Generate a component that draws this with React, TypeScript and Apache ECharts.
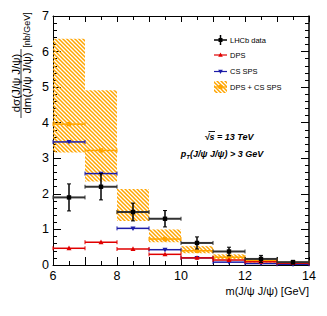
import React, { useEffect, useRef } from "react";
import * as echarts from "echarts";

// ---- data ----
const binLow = [6, 7, 8, 9, 10, 11, 12, 13];
const binHigh = [7, 8, 9, 10, 11, 12, 13, 14];
const lhcbData = [1.9, 2.2, 1.49, 1.3, 0.62, 0.38, 0.17, 0.08];
const lhcbErr = [0.38, 0.37, 0.25, 0.23, 0.17, 0.12, 0.1, 0.05];
const dpsPred = [0.47, 0.64, 0.45, 0.3, 0.2, 0.14, 0.09, 0.05];
const csSpsPred = [3.46, 2.57, 1.03, 0.43, 0.2, 0.08, 0.04, 0.02];
const sumPred = [3.96, 3.22, 1.48, 0.73, 0.4, 0.22, 0.13, 0.07];
const sumLow = [3.16, 2.35, 1.24, 0.64, 0.33, 0.16, 0.07, 0.04];
const sumHigh = [6.36, 4.91, 2.14, 1.0, 0.53, 0.3, 0.16, 0.09];
const xLabelValues = [6, 8, 10, 12, 14];
const legendLabels = ["LHCb data", "DPS", "CS SPS", "DPS + CS SPS"];

const FONT = "'Liberation Sans', Arial, Helvetica, sans-serif";
const ORANGE = "#ffa500";
const RED = "#e00000";
const BLUE = "#1c1ca8";
const BLACK = "#000";

function makeHatch(): any {
  const c = document.createElement("canvas");
  c.width = 4;
  c.height = 4;
  const g = c.getContext("2d")!;
  g.strokeStyle = ORANGE;
  g.lineWidth = 1.5;
  g.beginPath();
  g.moveTo(-1, -1);
  g.lineTo(5, 5);
  g.moveTo(-1, 3);
  g.lineTo(1, 5);
  g.moveTo(3, -1);
  g.lineTo(5, 1);
  g.stroke();
  return { image: c, repeat: "repeat", imageWidth: 4, imageHeight: 4 };
}

function measure(text: string, font: string): number {
  const c = document.createElement("canvas");
  const g = c.getContext("2d")!;
  g.font = font;
  return g.measureText(text).width;
}

function markerShape(kind: string, cx: number, cy: number, color: string, s = 2.2): any {
  if (kind === "square") {
    return { type: "rect", shape: { x: cx - s, y: cy - s, width: 2 * s, height: 2 * s }, style: { fill: color } };
  }
  if (kind === "up") {
    return {
      type: "polygon",
      shape: { points: [[cx, cy - s - 0.5], [cx - s - 0.3, cy + s - 0.3], [cx + s + 0.3, cy + s - 0.3]] },
      style: { fill: color },
    };
  }
  return {
    type: "polygon",
    shape: { points: [[cx, cy + s + 0.5], [cx - s - 0.3, cy - s + 0.3], [cx + s + 0.3, cy - s + 0.3]] },
    style: { fill: color },
  };
}

function stepRender(color: string, marker: string, lw: number, withErr: boolean, hColor?: string) {
  return (params: any, api: any) => {
    const lo = api.value(0);
    const hi = api.value(1);
    const v = api.value(2);
    const p0 = api.coord([lo, v]);
    const p1 = api.coord([hi, v]);
    const pc = api.coord([(lo + hi) / 2, v]);
    const hc = hColor || color;
    const children: any[] = [
      { type: "line", shape: { x1: p0[0], y1: p0[1], x2: p1[0], y2: p1[1] }, style: { stroke: hc, lineWidth: lw } },
      { type: "line", shape: { x1: p0[0], y1: p0[1] - 2, x2: p0[0], y2: p0[1] + 2 }, style: { stroke: hc, lineWidth: 1 } },
      { type: "line", shape: { x1: p1[0], y1: p1[1] - 2, x2: p1[0], y2: p1[1] + 2 }, style: { stroke: hc, lineWidth: 1 } },
    ];
    if (withErr) {
      const e = api.value(3);
      const pt = api.coord([(lo + hi) / 2, v + e]);
      const pb = api.coord([(lo + hi) / 2, v - e]);
      children.push(
        { type: "line", shape: { x1: pt[0], y1: pt[1], x2: pb[0], y2: pb[1] }, style: { stroke: BLACK, lineWidth: 1.5 } },
        { type: "line", shape: { x1: pt[0] - 2, y1: pt[1], x2: pt[0] + 2, y2: pt[1] }, style: { stroke: BLACK, lineWidth: 1 } },
        { type: "line", shape: { x1: pb[0] - 2, y1: pb[1], x2: pb[0] + 2, y2: pb[1] }, style: { stroke: BLACK, lineWidth: 1 } }
      );
    }
    children.push(markerShape(marker, pc[0], pc[1], color));
    return { type: "group", children };
  };
}

export default function App() {
  const ref = useRef<HTMLDivElement>(null);
  useEffect(() => {
    if (!ref.current) return;
    const chart = echarts.init(ref.current, null, { renderer: "svg" });
    const hatch = makeHatch();

    const bandRender = (params: any, api: any) => {
      const lo = api.value(0);
      const hi = api.value(1);
      const a = api.coord([lo, api.value(3)]);
      const b = api.coord([hi, api.value(2)]);
      return {
        type: "rect",
        shape: { x: a[0], y: a[1], width: b[0] - a[0], height: b[1] - a[1] },
        style: { fill: hatch, stroke: "none" },
      };
    };

    const xAxisBase = {
      type: "value",
      min: 6,
      max: 14,
      interval: 1,
      axisLine: { show: true, onZero: false, lineStyle: { color: BLACK, width: 1 } },
      splitLine: { show: false },
    };
    const yAxisBase = {
      type: "value",
      min: 0,
      max: 7,
      interval: 1,
      axisLine: { show: true, onZero: false, lineStyle: { color: BLACK, width: 1 } },
      splitLine: { show: false },
    };

    const legendX0 = 214;
    const legendX1 = 227;
    const legendTextX = 230;
    const rowY = [40, 55, 71.5, 87];
    const lc = (legendX0 + legendX1) / 2;
    const legendText = (i: number) => ({
      type: "text",
      x: legendTextX,
      y: rowY[i],
      style: { text: legendLabels[i], fontSize: 7.5, fontFamily: FONT, fill: BLACK, align: "left", verticalAlign: "middle" },
    });

    // sqrt(s) label with overline over "s"
    const sqrtFont = "italic bold 9px 'Liberation Sans', Arial, sans-serif";
    const sqrtText = "√s = 13 TeV";
    const sqrtW = measure(sqrtText, sqrtFont);
    const rootW = measure("√", sqrtFont);
    const sW = measure("s", sqrtFont);
    const sqrtCx = 229;
    const sqrtY = 137;
    const sqrtLeft = sqrtCx - sqrtW / 2;

    const yTitleStyle = { fontSize: 11.5, fontFamily: FONT, fill: BLACK, align: "center", verticalAlign: "middle" };

    const option: any = {
      animation: false,
      grid: { left: 53, right: 18, top: 16, bottom: 51, show: false },
      xAxis: [
        {
          ...xAxisBase,
          position: "bottom",
          axisTick: { show: true, inside: true, length: 8, lineStyle: { color: BLACK } },
          minorTick: { show: true, splitNumber: 2, length: 4, lineStyle: { color: BLACK } },
          axisLabel: {
            formatter: (v: number) => (xLabelValues.indexOf(v) >= 0 ? String(v) : ""),
            fontSize: 12.5,
            color: BLACK,
            margin: 4,
            fontFamily: FONT,
          },
        },
        {
          ...xAxisBase,
          position: "top",
          axisTick: { show: true, inside: true, length: 6, lineStyle: { color: BLACK } },
          minorTick: { show: true, splitNumber: 2, length: 4, lineStyle: { color: BLACK } },
          axisLabel: { show: false },
        },
      ],
      yAxis: [
        {
          ...yAxisBase,
          position: "left",
          axisTick: { show: true, inside: true, length: 8, lineStyle: { color: BLACK } },
          minorTick: { show: true, splitNumber: 5, length: 4, lineStyle: { color: BLACK } },
          axisLabel: { fontSize: 12.5, color: BLACK, margin: 4, fontFamily: FONT },
        },
        {
          ...yAxisBase,
          position: "right",
          axisLine: { show: true, onZero: false, lineStyle: { color: BLACK, width: 1.5 } },
          axisTick: { show: true, inside: true, length: 8, lineStyle: { color: BLACK } },
          minorTick: { show: true, splitNumber: 5, length: 4, lineStyle: { color: BLACK } },
          axisLabel: { show: false },
        },
      ],
      series: [
        {
          name: "band",
          type: "custom",
          renderItem: bandRender,
          encode: { x: [0, 1], y: [2, 3] },
          data: binLow.map((lo, i) => [lo, binHigh[i], sumLow[i], sumHigh[i]]),
          z: 1,
        },
        {
          name: "DPS + CS SPS",
          type: "custom",
          renderItem: stepRender(ORANGE, "square", 1.5, false),
          encode: { x: [0, 1], y: [2] },
          data: binLow.map((lo, i) => [lo, binHigh[i], sumPred[i]]),
          z: 2,
        },
        {
          name: "CS SPS",
          type: "custom",
          renderItem: stepRender(BLUE, "down", 1.5, false),
          encode: { x: [0, 1], y: [2] },
          data: binLow.map((lo, i) => [lo, binHigh[i], csSpsPred[i]]),
          z: 3,
        },
        {
          name: "DPS",
          type: "custom",
          renderItem: stepRender(RED, "up", 1.5, false),
          encode: { x: [0, 1], y: [2] },
          data: binLow.map((lo, i) => [lo, binHigh[i], dpsPred[i]]),
          z: 4,
        },
        {
          name: "LHCb data",
          type: "custom",
          renderItem: stepRender(BLACK, "square", 2, true, "#333"),
          encode: { x: [0, 1], y: [2] },
          data: binLow.map((lo, i) => [lo, binHigh[i], lhcbData[i], lhcbErr[i]]),
          z: 5,
        },
      ],
      graphic: [
        // y-axis title (rotated fraction)
        { type: "text", x: 15.5, y: 83, rotation: Math.PI / 2, style: { ...yTitleStyle, text: "dσ(J/ψ J/ψ)" } },
        { type: "line", shape: { x1: 21, y1: 49, x2: 21, y2: 118 }, style: { stroke: BLACK, lineWidth: 0.8 } },
        { type: "text", x: 26.5, y: 83, rotation: Math.PI / 2, style: { ...yTitleStyle, text: "dm(J/ψ J/ψ)" } },
        { type: "text", x: 26.5, y: 30, rotation: Math.PI / 2, style: { ...yTitleStyle, fontSize: 9, text: "[nb/GeV]" } },
        // x-axis title
        {
          type: "text",
          x: 309,
          y: 291,
          style: { text: "m(J/ψ J/ψ) [GeV]", fontSize: 11, fontFamily: FONT, fill: BLACK, align: "right", verticalAlign: "middle" },
        },
        // annotations
        {
          type: "text",
          x: sqrtLeft,
          y: sqrtY,
          style: {
            text: sqrtText,
            fontSize: 9,
            fontWeight: "bold",
            fontStyle: "italic",
            fontFamily: FONT,
            fill: BLACK,
            align: "left",
            verticalAlign: "middle",
          },
        },
        {
          type: "line",
          shape: { x1: sqrtLeft + rootW - 1, y1: sqrtY - 5.5, x2: sqrtLeft + rootW + sW + 0.5, y2: sqrtY - 5.5 },
          style: { stroke: BLACK, lineWidth: 0.9 },
        },
        {
          type: "text",
          x: 222,
          y: 154,
          style: {
            text: "{a|p}{s|T}{a|(J/ψ J/ψ) > 3 GeV}",
            align: "center",
            verticalAlign: "middle",
            rich: {
              a: { fontSize: 9, fontWeight: "bold", fontStyle: "italic", fontFamily: FONT, fill: BLACK, lineHeight: 12 },
              s: { fontSize: 6, fontWeight: "bold", fontStyle: "italic", fontFamily: FONT, fill: BLACK, lineHeight: 6, verticalAlign: "bottom" },
            },
          },
        },
        // legend: LHCb data
        { type: "line", shape: { x1: legendX0, y1: rowY[0], x2: legendX1, y2: rowY[0] }, style: { stroke: BLACK, lineWidth: 1.5 } },
        { type: "line", shape: { x1: lc, y1: rowY[0] - 5, x2: lc, y2: rowY[0] + 5 }, style: { stroke: BLACK, lineWidth: 1.5 } },
        { type: "rect", shape: { x: lc - 2, y: rowY[0] - 2, width: 4, height: 4 }, style: { fill: BLACK } },
        legendText(0),
        // DPS
        { type: "line", shape: { x1: legendX0, y1: rowY[1], x2: legendX1, y2: rowY[1] }, style: { stroke: RED, lineWidth: 1.2 } },
        { type: "polygon", shape: { points: [[lc, rowY[1] - 2.5], [lc - 2.3, rowY[1] + 1.8], [lc + 2.3, rowY[1] + 1.8]] }, style: { fill: RED } },
        legendText(1),
        // CS SPS
        { type: "line", shape: { x1: legendX0, y1: rowY[2], x2: legendX1, y2: rowY[2] }, style: { stroke: BLUE, lineWidth: 1.2 } },
        { type: "polygon", shape: { points: [[lc, rowY[2] + 2.5], [lc - 2.3, rowY[2] - 1.8], [lc + 2.3, rowY[2] - 1.8]] }, style: { fill: BLUE } },
        legendText(2),
        // DPS + CS SPS
        { type: "rect", shape: { x: legendX0, y: rowY[3] - 6, width: legendX1 - legendX0, height: 12 }, style: { fill: hatch } },
        { type: "line", shape: { x1: legendX0, y1: rowY[3], x2: legendX1, y2: rowY[3] }, style: { stroke: ORANGE, lineWidth: 1.2 } },
        { type: "rect", shape: { x: lc - 2, y: rowY[3] - 2, width: 4, height: 4 }, style: { fill: ORANGE } },
        legendText(3),
      ],
    };
    chart.setOption(option);
    return () => chart.dispose();
  }, []);
  return (
    <div
      ref={ref}
      style={{ position: "fixed", left: 0, top: 0, width: 327, height: 316, background: "#fff" }}
    />
  );
}
